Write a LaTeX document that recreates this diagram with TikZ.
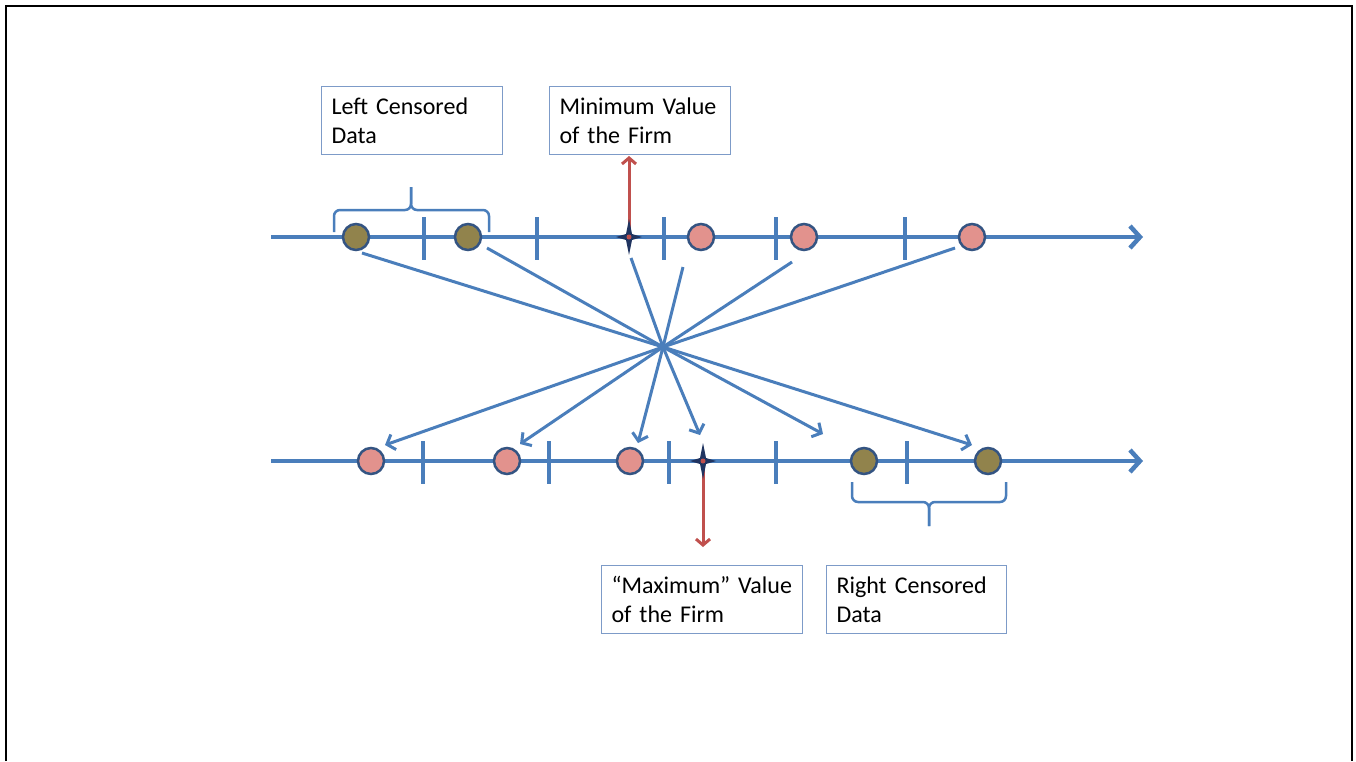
\documentclass[tikz,border=0pt]{standalone}
\usepackage{fontspec}
\setmainfont{Carlito}
\usepackage{tikz}
\usetikzlibrary{arrows.meta}
\definecolor{axisblue}{RGB}{74,126,187}
\definecolor{dotline}{RGB}{52,84,130}
\definecolor{olivefill}{RGB}{145,131,76}
\definecolor{pinkfill}{RGB}{226,146,141}
\definecolor{redline}{RGB}{192,80,77}
\definecolor{starnavy}{RGB}{32,52,96}
\definecolor{boxline}{RGB}{125,155,200}
\tikzset{
  notch/.pic={
      \draw[axisblue, line width=4.5pt] +(0,-20) -- +(0,23);
    },
  fstar/.pic={
      \fill[starnavy] (0,-18) -- (3,-3) -- (13,0) -- (3,3) -- (0,18)
        -- (-3,3) -- (-13,0) -- (-3,-3) -- cycle;
      \fill[redline] (0,0) circle (2.5);
    },
  olivedot/.style={circle, draw=dotline, fill=olivefill, line width=2.5pt,
      minimum size=26pt, inner sep=0pt},
  pinkdot/.style={circle, draw=dotline, fill=pinkfill, line width=2.5pt,
      minimum size=26pt, inner sep=0pt},
  axis/.style={axisblue, line width=4.5pt,
      -{Straight Barb[length=10pt, width=22pt]}},
  ray/.style={axisblue, line width=3pt,
      -{Straight Barb[length=7pt, width=16pt]}},
  redarrow/.style={redline, line width=3pt,
      -{Straight Barb[length=6pt, width=14pt]}},
  curly/.style={axisblue, line width=2.5pt, rounded corners=6pt},
  callout/.style={draw=boxline, line width=1pt, anchor=north west,
      align=left, inner xsep=10pt, minimum height=68pt,
      font=\fontsize{24}{29}\selectfont},
}

\begin{document}
\begin{tikzpicture}[x=1pt, y=-1pt]
      \useasboundingbox (0,0) rectangle (1356,761);
      \draw[line width=1.5pt] (6,761) -- (6,6) -- (1352,6) -- (1352,761);

      % the two value lines
      \coordinate (t0) at (271,237);
      \coordinate (t1) at (1143,237);
      \coordinate (b0) at (271,461);
      \coordinate (b1) at (1143,461);
      \draw[axis] (t0) -- (t1);
      \draw[axis] (b0) -- (b1);

      \pic at (424,237) {notch};
      \pic at (537,237) {notch};
      \pic at (664,237) {notch};
      \pic at (776,237) {notch};
      \pic at (905,237) {notch};

      \pic at (423,461) {notch};
      \pic at (549,461) {notch};
      \pic at (669,461) {notch};
      \pic at (776,461) {notch};
      \pic at (907,461) {notch};

      \node[olivedot] (top1) at (356,237) {};
      \node[olivedot] (top2) at (468,237) {};
      \node[pinkdot] (top3) at (701,237) {};
      \node[pinkdot] (top4) at (804,237) {};
      \node[pinkdot] (top5) at (972,237) {};

      \node[pinkdot] (bot1) at (371,461) {};
      \node[pinkdot] (bot2) at (507,461) {};
      \node[pinkdot] (bot3) at (630,461) {};
      \node[olivedot] (bot4) at (864,461) {};
      \node[olivedot] (bot5) at (988,461) {};

      % braces
      \draw[curly] (334,232) -- (334,210) -- (411,210) -- (411,187);
      \draw[curly] (489,232) -- (489,210) -- (411,210) -- (411,187);
      \draw[curly] (852,482) -- (852,502) -- (929,502) -- (929,526);
      \draw[curly] (1006,482) -- (1006,502) -- (929,502) -- (929,526);

      % rays through the cross point
      \coordinate (ctr) at (663,347);
      \coordinate (a1) at (362,253);
      \coordinate (a2) at (487,248);
      \coordinate (a3) at (631,258);
      \coordinate (a4) at (683,267);
      \coordinate (a5) at (792,262);
      \coordinate (a6) at (955,248);
      \coordinate (e1) at (972,445);
      \coordinate (e2) at (823,434);
      \coordinate (e3) at (700,435);
      \coordinate (e4) at (638,443);
      \coordinate (e5) at (520,444);
      \coordinate (e6) at (385,445);
      \draw[ray] (a1) -- (ctr) -- (e1);
      \draw[ray] (a2) -- (ctr) -- (e2);
      \draw[ray] (a3) -- (ctr) -- (e3);
      \draw[ray] (a4) -- (ctr) -- (e4);
      \draw[ray] (a5) -- (ctr) -- (e5);
      \draw[ray] (a6) -- (ctr) -- (e6);

      % firm values
      \coordinate (minstar) at (629,237);
      \coordinate (mintip) at (629,156);
      \coordinate (maxstar) at (703,461);
      \coordinate (maxtip) at (703,547);
      \draw[redarrow] (minstar) -- (mintip);
      \draw[redarrow] (maxstar) -- (maxtip);
      \pic at (minstar) {fstar};
      \pic at (maxstar) {fstar};

      \node[callout, text width=161pt] (leftbox) at (321,86)
      {Left Censored\\Data};
      \node[callout, text width=161pt] (minbox) at (549,86)
      {Minimum Value\\of the Firm};
      \node[callout, text width=181pt] (maxbox) at (601,565)
      {“Maximum” Value\\of the Firm};
      \node[callout, text width=160pt] (rightbox) at (826,565)
      {Right Censored\\Data};

    \end{tikzpicture}
\end{document}
